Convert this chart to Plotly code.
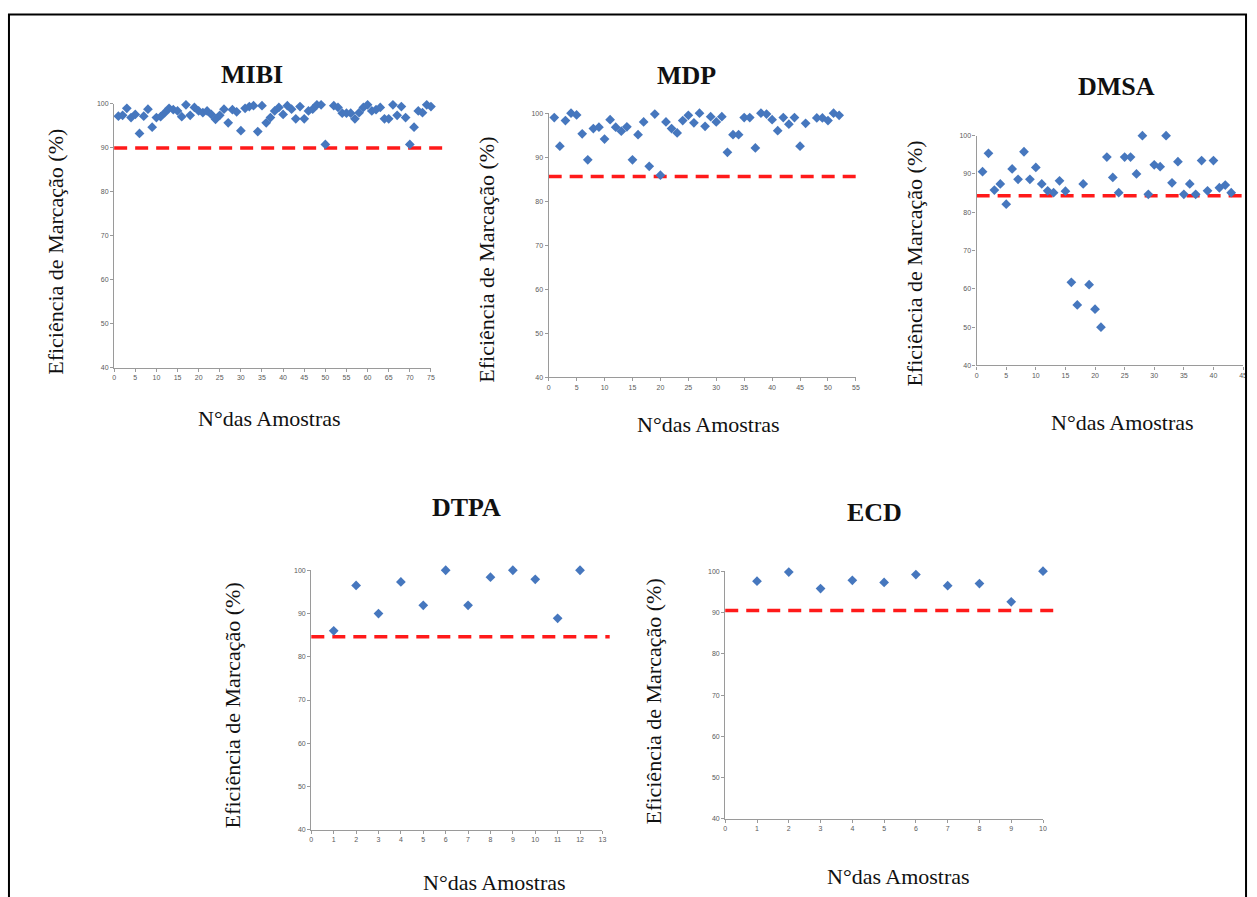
import plotly.graph_objects as go

W, H = 1257, 897

# ---------------- data ----------------
mibi_x = list(range(1, 51)) + list(range(52, 76))
mibi_y = [97.2, 97.4, 99.0, 96.9, 97.6, 93.3, 97.2, 98.8, 94.7, 96.9,
          97.1, 98.0, 99.0, 98.7, 98.4, 97.1, 99.8, 97.4, 99.2, 98.4,
          98.0, 98.4, 97.6, 96.5, 97.4, 98.8, 95.7, 98.7, 98.2, 93.9,
          99.0, 99.4, 99.6, 93.7, 99.6, 95.7, 96.9, 98.4, 99.2, 97.6,
          99.6, 98.8, 96.6, 99.4, 96.6, 98.4, 98.8, 99.8, 99.8, 90.8,
          99.6, 99.2, 97.9, 97.9, 97.9, 96.6, 98.0, 99.2, 99.8, 98.4,
          98.7, 99.2, 96.6, 96.6, 99.8, 97.4, 99.4, 96.9, 90.8, 94.7,
          98.4, 98.0, 99.8, 99.4]
mibi_limit = 90.0

mdp_x = list(range(1, 47)) + list(range(48, 53))
mdp_y = [99.0, 92.5, 98.3, 100.0, 99.6, 95.3, 89.4, 96.5, 96.8, 94.1,
         98.5, 96.8, 95.9, 96.9, 89.4, 95.1, 98.0, 87.9, 99.8, 85.9,
         98.0, 96.5, 95.5, 98.3, 99.5, 97.8, 100.0, 97.0, 99.2, 98.0,
         99.2, 91.1, 95.1, 95.1, 99.0, 99.0, 92.1, 100.0, 99.8, 98.5,
         96.0, 99.0, 97.5, 99.0, 92.5, 97.7,
         98.9, 98.9, 98.3, 100.0, 99.5]
mdp_limit = 85.6

dmsa_x = list(range(1, 44))
dmsa_y = [90.6, 95.4, 85.8, 87.4, 82.1, 91.3, 88.6, 95.8, 88.6, 91.7,
          87.4, 85.6, 85.1, 88.2, 85.5, 61.7, 55.8, 87.4, 61.1, 54.7,
          50.0, 94.4, 89.1, 85.1, 94.4, 94.4, 90.0, 100.0, 84.7, 92.4,
          91.9, 100.0, 87.7, 93.2, 84.7, 87.4, 84.7, 93.5, 85.6, 93.5,
          86.4, 87.1, 85.1]
dmsa_limit = 84.3

dtpa_x = list(range(1, 13))
dtpa_y = [86.0, 96.5, 90.0, 97.3, 91.9, 100.0, 91.9, 98.4, 100.0, 97.9, 88.9, 100.0]
dtpa_limit = 84.6

ecd_x = list(range(1, 11))
ecd_y = [97.6, 99.8, 95.8, 97.8, 97.3, 99.2, 96.5, 97.0, 92.6, 100.0]
ecd_limit = 90.5

titles = ["MIBI", "MDP", "DMSA", "DTPA", "ECD"]
x_max = [75, 55, 45, 13, 10]
x_dtick = [5, 5, 5, 1, 1]
y_range = [40, 100]
y_label = "Eficiência de Marcação (%)"
x_label = "N°das Amostras"

series = [(mibi_x, mibi_y, mibi_limit), (mdp_x, mdp_y, mdp_limit),
          (dmsa_x, dmsa_y, dmsa_limit), (dtpa_x, dtpa_y, dtpa_limit),
          (ecd_x, ecd_y, ecd_limit)]

# ---------------- layout geometry (pixels) ----------------
# plot boxes: (left, right, top, bottom)
boxes = [(112.7, 431.0, 100.7, 366.7),
         (549.3, 858.0, 110.0, 376.0),
         (979.3, 1247.0, 132.7, 364.3),
         (310.8, 603.3, 570.7, 832.3),
         (726.7, 1046.0, 571.7, 821.3)]
limit_ext = [1.045, 1.012, 1.012, 1.025, 1.036]
title_pos = [(251, 71), (688, 72), (1120, 83), (467, 507), (877, 512)]
ylab_pos = [(53, 250), (487, 258), (917, 262), (232, 707), (655, 703)]
xlab_pos = [(269, 418), (710, 424), (1126, 422), (495, 885), (901, 879)]

BLUE = "#4677BE"
SERIF = "Liberation Serif, Times New Roman, serif"


def px(x):
    return x / W


def py(y):
    return 1 - y / H


fig = go.Figure()
layout = dict(width=W, height=H, margin=dict(l=0, r=0, t=0, b=0),
              paper_bgcolor="white", plot_bgcolor="white", showlegend=False)

annotations = []
shapes = []
for i, ((xs, ys, lim), (l, r, t, b)) in enumerate(zip(series, boxes)):
    k = "" if i == 0 else str(i + 1)
    fig.add_trace(go.Scatter(
        x=xs, y=ys, mode="markers", xaxis="x" + k, yaxis="y" + k,
        marker=dict(symbol="diamond", size=7.5, color=BLUE,
                    line=dict(width=0)),
        cliponaxis=False, hoverinfo="x+y"))
    axis_common = dict(showgrid=False, zeroline=False, showline=True,
                       linecolor="#9a9a9a", linewidth=1.3, ticks="outside",
                       ticklen=3, tickcolor="#9a9a9a",
                       tickfont=dict(size=7, color="#5a5a5a",
                                     family="Liberation Sans, Arial"))
    layout["xaxis" + k] = dict(axis_common, domain=[px(l), px(r)],
                               range=[0, x_max[i]], dtick=x_dtick[i], tick0=0,
                               anchor="y" + k)
    layout["yaxis" + k] = dict(axis_common, domain=[py(b), py(t)],
                               range=y_range, dtick=10, tick0=40,
                               anchor="x" + k)
    shapes.append(dict(type="line", xref="x" + k + " domain", yref="y" + k,
                       x0=0, x1=limit_ext[i], y0=lim, y1=lim,
                       line=dict(color="#FF1A1A", width=3.5, dash="13px,8px"),
                       layer="below"))
    tx, ty = title_pos[i]
    annotations.append(dict(text="<b>%s</b>" % titles[i], x=px(tx), y=py(ty),
                            xref="paper", yref="paper", showarrow=False,
                            xanchor="center", yanchor="middle",
                            font=dict(family=SERIF, size=26, color="#111111")))
    yx, yy = ylab_pos[i]
    annotations.append(dict(text=y_label, x=px(yx), y=py(yy), textangle=-90,
                            xref="paper", yref="paper", showarrow=False,
                            xanchor="center", yanchor="middle",
                            font=dict(family=SERIF, size=22, color="#111111")))
    xx, xy = xlab_pos[i]
    annotations.append(dict(text=x_label, x=px(xx), y=py(xy),
                            xref="paper", yref="paper", showarrow=False,
                            xanchor="center", yanchor="middle",
                            font=dict(family=SERIF, size=22, color="#111111")))

# outer frame (bottom edge cut off in the reference)
shapes.append(dict(type="rect", xref="paper", yref="paper",
                   x0=px(7), x1=px(1250), y0=-0.05, y1=py(10.5),
                   line=dict(color="black", width=2), fillcolor="rgba(0,0,0,0)"))

layout["annotations"] = annotations
layout["shapes"] = shapes
fig.update_layout(**layout)
fig.write_html("out.html",
               config={"displayModeBar": False},
               post_script="document.body.style.margin='0';"
                           "document.body.style.padding='0';"
                           "document.body.style.overflow='hidden';")
